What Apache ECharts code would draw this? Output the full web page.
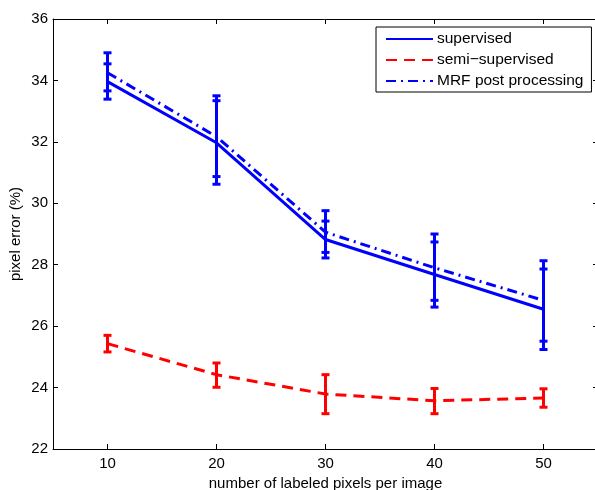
<!DOCTYPE html>
<html>
<head>
<meta charset="utf-8">
<script src="https://cdn.jsdelivr.net/npm/echarts@6/dist/echarts.min.js"></script>
<style>
html,body{margin:0;padding:0;background:#fff;}
#c{width:595px;height:490px;}
</style>
</head>
<body>
<div id="c"></div>
<script>
const xValues = [10, 20, 30, 40, 50];
const xTicks = [10, 20, 30, 40, 50];
const yTicks = [22, 24, 26, 28, 30, 32, 34, 36];

const supervisedMean = [33.96, 31.97, 28.82, 27.68, 26.55];
const supervisedLow  = [33.39, 30.62, 28.22, 26.62, 25.24];
const supervisedHigh = [34.54, 33.34, 29.42, 28.74, 27.86];

const semiMean = [25.43, 24.42, 23.79, 23.57, 23.66];
const semiLow  = [25.16, 24.01, 23.15, 23.15, 23.36];
const semiHigh = [25.70, 24.80, 24.42, 23.97, 23.96];

const mrfMean = [34.25, 32.17, 29.06, 27.90, 26.84];
const mrfLow  = [33.66, 30.87, 28.40, 26.84, 25.51];
const mrfHigh = [34.90, 33.50, 29.76, 29.00, 28.13];

const seriesNames = ['supervised', 'semi\u2212supervised', 'MRF post processing'];

const FONT = 'Liberation Sans, Arial, Helvetica, sans-serif';
const BLUE = '#0000ff';
const RED = '#ff0000';

function pts(ys) { return xValues.map((x, i) => [x, ys[i]]); }
function bars(lo, hi) { return xValues.map((x, i) => [x, lo[i], hi[i]]); }

function errorBarSeries(name, lo, hi, color) {
  return {
    name: name,
    type: 'custom',
    data: bars(lo, hi),
    z: 3,
    silent: true,
    renderItem: function (params, api) {
      const x = api.value(0);
      const pLo = api.coord([x, api.value(1)]);
      const pHi = api.coord([x, api.value(2)]);
      const hw = 4;
      const st = { stroke: color, lineWidth: 3, fill: null };
      return {
        type: 'group',
        children: [
          { type: 'line', shape: { x1: pLo[0], y1: pLo[1], x2: pHi[0], y2: pHi[1] }, style: st },
          { type: 'line', shape: { x1: pLo[0] - hw, y1: pLo[1], x2: pLo[0] + hw, y2: pLo[1] }, style: st },
          { type: 'line', shape: { x1: pHi[0] - hw, y1: pHi[1], x2: pHi[0] + hw, y2: pHi[1] }, style: st }
        ]
      };
    }
  };
}

const chart = echarts.init(document.getElementById('c'), null, { renderer: 'canvas' });

const axisLineStyle = { color: '#000', width: 1 };

chart.setOption({
  animation: false,
  backgroundColor: '#fff',
  textStyle: { fontFamily: FONT },
  grid: { left: 53, top: 19, width: 545, height: 430, containLabel: false, outerBoundsMode: 'none' },
  legend: {
    data: seriesNames,
    orient: 'vertical',
    left: 376,
    top: 27,
    backgroundColor: '#fff',
    borderColor: '#000',
    borderWidth: 1,
    padding: [4, 8, 3, 9],
    itemWidth: 47,
    itemHeight: 14,
    itemGap: 5,
    selectedMode: false,
    itemStyle: { opacity: 0 },
    textStyle: { fontFamily: FONT, fontSize: 15.5, lineHeight: 15, color: '#000', padding: [0, 0, 0, -1] }
  },
  xAxis: [
    {
      type: 'value', min: 5, max: 55, position: 'bottom',
      name: 'number of labeled pixels per image',
      nameLocation: 'middle', nameGap: 26,
      nameTextStyle: { fontFamily: FONT, fontSize: 15, color: '#000' },
      axisLine: { show: true, onZero: false, lineStyle: axisLineStyle },
      axisTick: { show: true, inside: true, length: 5, lineStyle: axisLineStyle, customValues: xTicks },
      axisLabel: { show: true, fontFamily: FONT, fontSize: 15, color: '#000', margin: 7, customValues: xTicks },
      splitLine: { show: false }
    },
    {
      type: 'value', min: 5, max: 55, position: 'top',
      axisLine: { show: true, onZero: false, lineStyle: axisLineStyle },
      axisTick: { show: true, inside: true, length: 5, lineStyle: axisLineStyle, customValues: xTicks },
      axisLabel: { show: false },
      splitLine: { show: false }
    }
  ],
  yAxis: [
    {
      type: 'value', min: 22, max: 36, interval: 2, position: 'left',
      name: 'pixel error (%)',
      nameLocation: 'middle', nameGap: 30, nameRotate: 90,
      nameMoveOverlap: false,
      nameTextStyle: { fontFamily: FONT, fontSize: 15, color: '#000' },
      axisLine: { show: true, onZero: false, lineStyle: axisLineStyle },
      axisTick: { show: true, inside: true, length: 5, lineStyle: axisLineStyle },
      axisLabel: { show: true, fontFamily: FONT, fontSize: 15, color: '#000', margin: 5 },
      splitLine: { show: false }
    },
    {
      type: 'value', min: 22, max: 36, interval: 2, position: 'right',
      axisLine: { show: true, onZero: false, lineStyle: axisLineStyle },
      axisTick: { show: true, inside: true, length: 5, lineStyle: axisLineStyle },
      axisLabel: { show: false },
      splitLine: { show: false }
    }
  ],
  series: [
    errorBarSeries('eb_sup', supervisedLow, supervisedHigh, BLUE),
    errorBarSeries('eb_mrf', mrfLow, mrfHigh, BLUE),
    errorBarSeries('eb_semi', semiLow, semiHigh, RED),
    {
      name: seriesNames[0], type: 'line', data: pts(supervisedMean),
      symbol: 'none', z: 4, color: BLUE,
      lineStyle: { color: BLUE, width: 3, type: 'solid' }
    },
    {
      name: seriesNames[1], type: 'line', data: pts(semiMean),
      symbol: 'none', z: 4, color: RED,
      lineStyle: { color: RED, width: 3, type: [11, 7], cap: 'butt' }
    },
    {
      name: seriesNames[2], type: 'line', data: pts(mrfMean),
      symbol: 'none', z: 4, color: BLUE,
      lineStyle: { color: BLUE, width: 3, type: [10, 5, 2, 5], cap: 'butt' }
    }
  ]
});
</script>
</body>
</html>
